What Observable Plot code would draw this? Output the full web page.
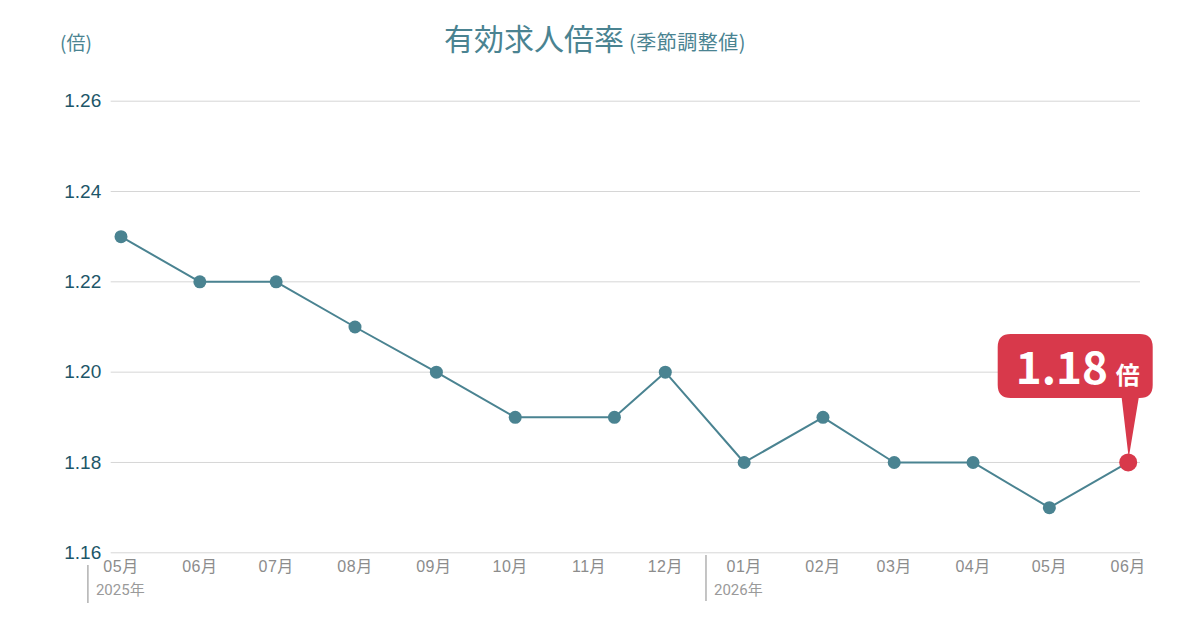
<!DOCTYPE html>
<html><head><meta charset="utf-8">
<script src="https://cdn.jsdelivr.net/npm/d3@7"></script>
<script src="https://cdn.jsdelivr.net/npm/@observablehq/plot@0.6"></script>
<style>
body{margin:0;background:#fff;}
#wrap{position:relative;width:1200px;height:630px;overflow:hidden;font-family:"Noto Sans CJK JP",sans-serif;}
#head{position:relative;height:60px;}
#unit{position:absolute;left:60px;top:29px;font-size:19px;line-height:26px;color:#4a8391;}
#title{position:absolute;left:444px;top:17px;color:#4a8391;font-size:30px;line-height:40px;white-space:nowrap;}
#title span{font-size:20px;margin-left:5px;letter-spacing:0.5px;}
</style></head>
<body>
<div id="wrap">
  <div id="head">
    <div id="unit">(倍)</div>
    <div id="title">有効求人倍率<span>(季節調整値)</span></div>
  </div>
  <div id="chart"></div>
</div>
<script>
// ---- data ----
const dates = ["2025-05-01","2025-06-01","2025-07-01","2025-08-01","2025-09-02","2025-10-03","2025-11-11","2025-12-01","2026-01-01","2026-02-01","2026-03-01","2026-04-01","2026-05-01","2026-06-01"];
const values = [1.23,1.22,1.22,1.21,1.20,1.19,1.19,1.20,1.18,1.19,1.18,1.18,1.17,1.18];
const yTicks = [1.16,1.18,1.20,1.22,1.24,1.26];
const monthTicks = ["2025-05-01","2025-06-01","2025-07-01","2025-08-01","2025-09-01","2025-10-01","2025-11-01","2025-12-01","2026-01-01","2026-02-01","2026-03-01","2026-04-01","2026-05-01","2026-06-01"];
const yearDates = ["2025-04-18","2025-12-17"];
const yearLabels = ["2025年","2026年"];
const unitLabel = "倍";

// ---- build ----
const rows = dates.map((d,i)=>({date:new Date(d+"T00:00:00Z"), value:values[i]}));
const ticksX = monthTicks.map(d=>new Date(d+"T00:00:00Z"));
const years = yearDates.map((d,i)=>({date:new Date(d+"T00:00:00Z"), label:yearLabels[i]}));
const last = rows[rows.length-1];
const teal = "#4a8391";
const red = "#d8394b";
const fmt = d3.format(".2f");

function callout(index, scales) {
  const px = scales.x(last.date), py = scales.y(last.value);
  const g = d3.create("svg:g");
  const x0 = px-130, x1 = px+25, y0 = py-128, y1 = py-64, r = 13;
  const p = d3.path();
  p.moveTo(x0+r,y0); p.lineTo(x1-r,y0); p.quadraticCurveTo(x1,y0,x1,y0+r);
  p.lineTo(x1,y1-r); p.quadraticCurveTo(x1,y1,x1-r,y1);
  p.lineTo(px+11,y1); p.lineTo(px+1,py-4); p.lineTo(px-6,y1);
  p.lineTo(x0+r,y1); p.quadraticCurveTo(x0,y1,x0,y1-r);
  p.lineTo(x0,y0+r); p.quadraticCurveTo(x0,y0,x0+r,y0); p.closePath();
  g.append("path").attr("d",p.toString()).attr("fill",red);
  g.append("text").attr("x",px-112).attr("y",py-78).attr("text-anchor","start")
    .attr("font-family","'Noto Sans CJK JP',sans-serif").attr("font-weight",700)
    .attr("font-size",44).attr("fill","#fff").text(fmt(last.value));
  g.append("text").attr("x",px-12).attr("y",py-78).attr("text-anchor","start")
    .attr("font-family","'Noto Sans CJK JP',sans-serif").attr("font-weight",700)
    .attr("font-size",24).attr("fill","#fff").text(unitLabel);
  return g.node();
}

const chart = Plot.plot({
  width:1200, height:570,
  marginLeft:110.7, marginRight:60, marginTop:40.7, marginBottom:77.7,
  style:{fontFamily:"'Liberation Sans', Arial, 'Noto Sans CJK JP', sans-serif", background:"#fff"},
  x:{type:"utc", domain:[ticksX[0], ticksX[ticksX.length-1]], insetLeft:9.8, insetRight:12.3},
  y:{domain:[1.16,1.26]},
  marks:[
    Plot.gridY(yTicks,{stroke:"#d6d6d6", strokeOpacity:1, strokeWidth:1}),
    Plot.axisY(yTicks,{tickSize:0, tickPadding:10, fontSize:19, fill:"#1d5668", tickFormat:fmt, label:null}),
    Plot.axisX(ticksX,{tickSize:0, tickPadding:8, fontSize:16, fill:"#8c8c8c", tickFormat:d=>d3.utcFormat("%m月")(d), label:null}),
    Plot.ruleX([years[0]],{x:"date", stroke:"#8a8a8a", strokeWidth:1, insetTop:464.3, insetBottom:-50.7}),
    Plot.ruleX([years[1]],{x:"date", stroke:"#8a8a8a", strokeWidth:1, insetTop:454.3, insetBottom:-48.7}),
    Plot.text(years,{x:"date", text:"label", frameAnchor:"bottom", dx:8, dy:42, textAnchor:"start", fontSize:15, fill:"#9a9a9a", fontFamily:"Roboto, 'Noto Sans CJK JP', sans-serif"}),
    Plot.line(rows,{x:"date", y:"value", stroke:teal, strokeWidth:2}),
    Plot.dot(rows.slice(0,-1),{x:"date", y:"value", r:6.5, fill:teal, stroke:"none"}),
    callout,
    Plot.dot([last],{x:"date", y:"value", r:9, fill:red, stroke:"none"})
  ]
});
d3.select(chart).selectAll("g[aria-label='x-axis tick label']").style("letter-spacing","0.5px");
document.getElementById("chart").append(chart);
</script>
</body></html>
